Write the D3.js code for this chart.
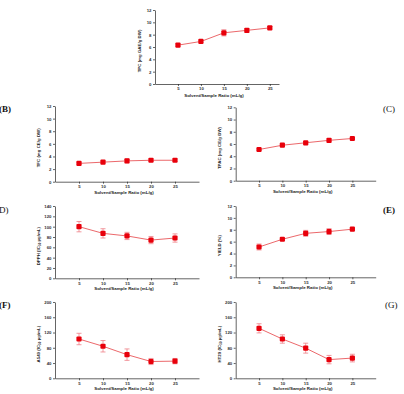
<!DOCTYPE html>
<html>
<head>
<meta charset="utf-8">
<script src="https://cdn.jsdelivr.net/npm/d3@7"></script>
<style>
  body { margin: 0; background: #fff; }
  svg { display: block; font-family: "Liberation Sans", Arial, sans-serif; }
  .tick text { font-size: 4.3px; fill: #333; font-weight: bold; }
  .tick line, .domain { stroke: #222; stroke-width: 0.7; }
</style>
</head>
<body>
<div id="root"></div>
<script>
// data (mean, error)
const ratios = [5, 10, 15, 20, 25]

const tpcMean = [6.3, 6.9, 8.3, 8.7, 9.1]
const tpcErr = [0.2, 0.2, 0.5, 0.3, 0.2]
const tfcMean = [2.9, 3.1, 3.3, 3.4, 3.4]
const tfcErr = [0.15, 0.15, 0.3, 0.2, 0.2]
const tpacMean = [5.1, 5.8, 6.2, 6.6, 6.9]
const tpacErr = [0.15, 0.15, 0.2, 0.25, 0.15]
const dpphMean = [100, 87, 82, 74, 78]
const dpphErr = [10, 9, 7, 7, 8]
const yieldMean = [5.1, 6.4, 7.4, 7.7, 8.1]
const yieldErr = [0.5, 0.2, 0.5, 0.5, 0.2]
const a549Mean = [103, 84, 62, 44, 45]
const a549Err = [15, 15, 15, 8, 7]
const ht29Mean = [131, 103, 79, 49, 53]
const ht29Err = [12, 11, 13, 11, 10]

const smallTicks = [0, 2, 4, 6, 8, 10, 12]
const dpphTicks = [0, 20, 40, 60, 80, 100, 120, 140]
const cellTicks = [0, 40, 80, 120, 160, 200]

const X_TITLE = 'Solvent/Sample Ratio (mL/g)'

const W = 404
const H = 394
const LINE_COLOR = '#e3262b'
const ERR_COLOR = '#ef7f86'
const MARK_COLOR = '#e8000b'

// layout of each panel (pixel boxes)
const LEFT = { x0: 55, x1: 199, xMax: 30, ty: 40 }
const RIGHT = { x0: 235.7, x1: 375.7, xMax: 30, ty: 220.7 }

const panels = [
  { mean: tpcMean, err: tpcErr, ticks: smallTicks, yTitle: ['TPC (mg GAE/g DW)'],
    col: { x0: 155, x1: 279, xMax: 27, ty: 140.5 }, top: 10, bottom: 84, xt: 13, label: null },
  { mean: tfcMean, err: tfcErr, ticks: smallTicks, yTitle: ['TFC (mg CE/g DW)'],
    col: LEFT, top: 106, bottom: 181.7, xt: 12, label: { text: '(B)', x: -1, y: 112, bold: true } },
  { mean: tpacMean, err: tpacErr, ticks: smallTicks, yTitle: ['TPAC (mg CE/g DW)'],
    col: RIGHT, top: 107.3, bottom: 180.7, xt: 12, label: { text: '(C)', x: 383, y: 112, bold: false } },
  { mean: dpphMean, err: dpphErr, ticks: dpphTicks, yTitle: ['DPPH (IC', '50', ' µg/mL)'],
    col: LEFT, top: 206, bottom: 278.3, xt: 12, label: { text: 'D)', x: -1, y: 213, bold: false } },
  { mean: yieldMean, err: yieldErr, ticks: smallTicks, yTitle: ['YIELD (%)'],
    col: RIGHT, top: 206, bottom: 277.3, xt: 12, label: { text: '(E)', x: 383, y: 213, bold: true } },
  { mean: a549Mean, err: a549Err, ticks: cellTicks, yTitle: ['A549 (IC', '50', ' µg/mL)'],
    col: LEFT, top: 302, bottom: 378.3, xt: 12, label: { text: '(F)', x: -1, y: 308, bold: true } },
  { mean: ht29Mean, err: ht29Err, ticks: cellTicks, yTitle: ['HT29 (IC', '50', ' µg/mL)'],
    col: RIGHT, top: 302, bottom: 378.3, xt: 12, label: { text: '(G)', x: 385, y: 308, bold: false } },
]

const svg = d3.select('#root')
  .append('svg')
  .attr('width', W)
  .attr('height', H)

panels.forEach((p) => {
  const g = svg.append('g')
  const xScale = d3.scaleLinear().domain([0, p.col.xMax]).range([p.col.x0, p.col.x1])
  const yScale = d3.scaleLinear()
    .domain([0, d3.max(p.ticks)])
    .range([p.bottom, p.top])

  const xAxis = d3.axisBottom(xScale).tickValues(ratios).tickSize(2).tickSizeOuter(0).tickPadding(1.2)
  const yAxis = d3.axisLeft(yScale).tickValues(p.ticks).tickSize(2).tickSizeOuter(0).tickPadding(1.5)

  g.append('g')
    .attr('transform', `translate(0,${p.bottom})`)
    .call(xAxis)

  g.append('g')
    .attr('transform', `translate(${p.col.x0},0)`)
    .call(yAxis)

  // x title
  g.append('text')
    .attr('x', (p.col.x0 + p.col.x1) / 2 - 3)
    .attr('y', p.bottom + p.xt)
    .attr('text-anchor', 'middle')
    .attr('font-size', 4.4)
    .attr('font-weight', 'bold')
    .attr('fill', '#222')
    .text(X_TITLE)

  // y title
  const yt = g.append('text')
    .attr('transform', `translate(${p.col.ty},${(p.top + p.bottom) / 2 + 4}) rotate(-90)`)
    .attr('text-anchor', 'middle')
    .attr('font-size', 4.4)
    .attr('font-weight', 'bold')
    .attr('fill', '#222')
  yt.append('tspan').text(p.yTitle[0])
  if (p.yTitle.length > 1) {
    yt.append('tspan').attr('font-size', 3).attr('dy', 1.2).text(p.yTitle[1])
    yt.append('tspan').attr('dy', -1.2).text(p.yTitle[2])
  }

  const pts = ratios.map((r, i) => ({ r, m: p.mean[i], e: p.err[i] }))

  // connecting line
  g.append('path')
    .datum(pts)
    .attr('fill', 'none')
    .attr('stroke', LINE_COLOR)
    .attr('stroke-width', 0.7)
    .attr('d', d3.line().x(d => xScale(d.r)).y(d => yScale(d.m)))

  // error bars
  const eb = g.selectAll('.eb').data(pts).enter().append('g')
    .attr('stroke', ERR_COLOR)
    .attr('stroke-width', 0.8)
  eb.append('line')
    .attr('x1', d => xScale(d.r)).attr('x2', d => xScale(d.r))
    .attr('y1', d => yScale(d.m - d.e)).attr('y2', d => yScale(d.m + d.e))
  eb.append('line')
    .attr('x1', d => xScale(d.r) - 2.5).attr('x2', d => xScale(d.r) + 2.5)
    .attr('y1', d => yScale(d.m + d.e)).attr('y2', d => yScale(d.m + d.e))
  eb.append('line')
    .attr('x1', d => xScale(d.r) - 2.5).attr('x2', d => xScale(d.r) + 2.5)
    .attr('y1', d => yScale(d.m - d.e)).attr('y2', d => yScale(d.m - d.e))

  // markers
  g.selectAll('.mk').data(pts).enter().append('rect')
    .attr('x', d => xScale(d.r) - 2.6)
    .attr('y', d => yScale(d.m) - 2.6)
    .attr('width', 5.2)
    .attr('height', 5.2)
    .attr('rx', 1)
    .attr('fill', MARK_COLOR)

  if (p.label) {
    svg.append('text')
      .attr('x', p.label.x)
      .attr('y', p.label.y)
      .attr('font-family', '"Liberation Serif", "Times New Roman", serif')
      .attr('font-size', 9)
      .attr('font-weight', p.label.bold ? 'bold' : 'normal')
      .attr('fill', '#111')
      .text(p.label.text)
  }
})
</script>
</body>
</html>
